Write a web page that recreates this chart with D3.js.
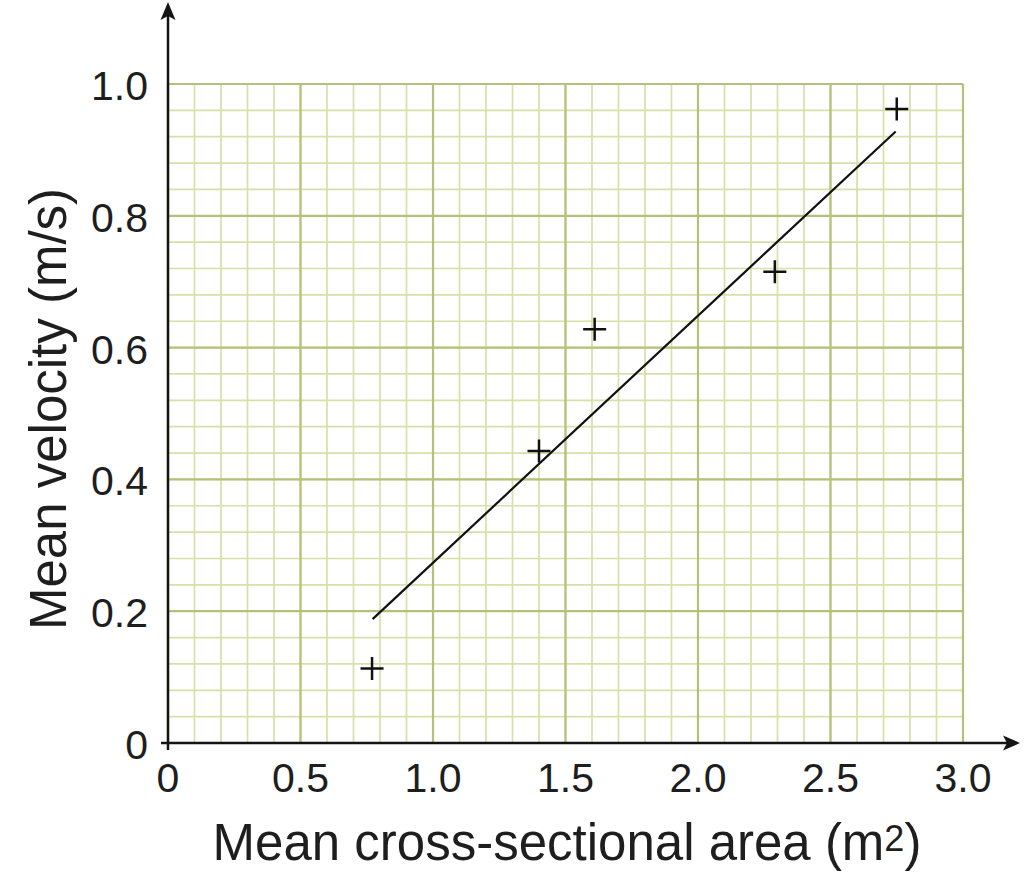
<!DOCTYPE html>
<html>
<head>
<meta charset="utf-8">
<script src="https://cdn.jsdelivr.net/npm/d3@7"></script>
<style>
html,body{margin:0;padding:0;background:#fff;}
svg{display:block;}
text{font-family:"Liberation Sans", Arial, Helvetica, sans-serif;fill:#1e1e1e;}
</style>
</head>
<body>
<svg id="chart" width="1024" height="881"></svg>
<script>
// ---- data ----
const xTickValues = [0, 0.5, 1.0, 1.5, 2.0, 2.5, 3.0];
const xTickLabels = ["0", "0.5", "1.0", "1.5", "2.0", "2.5", "3.0"];
const yTickValues = [0, 0.2, 0.4, 0.6, 0.8, 1.0];
const yTickLabels = ["0", "0.2", "0.4", "0.6", "0.8", "1.0"];
const pointsX = [0.77, 1.40, 1.61, 2.29, 2.75];
const pointsY = [0.113, 0.443, 0.628, 0.715, 0.962];
const fitX = [0.772, 2.746];
const fitY = [0.188, 0.928];
const xTitle = "Mean cross-sectional area (m";
const xTitleSup = "2";
const yTitle = "Mean velocity (m/s)";

// ---- layout ----
const svg = d3.select("#chart");
const x = d3.scaleLinear().domain([0, 3]).range([168, 963]);
const y = d3.scaleLinear().domain([0, 1]).range([743, 84]);

const minorColor = "#d8dfa8";
const majorColor = "#b7c07a";

// minor grid
const xMinor = d3.range(0, 31).map(i => i / 10);
const yMinor = d3.range(0, 26).map(i => i * 0.04);
const g = svg.append("g");
g.selectAll("line.xmin").data(xMinor).join("line")
  .attr("x1", d => x(d)).attr("x2", d => x(d))
  .attr("y1", y(0)).attr("y2", y(1))
  .attr("stroke", minorColor).attr("stroke-width", 1.7);
g.selectAll("line.ymin").data(yMinor).join("line")
  .attr("y1", d => y(d)).attr("y2", d => y(d))
  .attr("x1", x(0)).attr("x2", x(3))
  .attr("stroke", minorColor).attr("stroke-width", 1.7);
// major grid
g.selectAll("line.xmaj").data(xTickValues).join("line")
  .attr("x1", d => x(d)).attr("x2", d => x(d))
  .attr("y1", y(0)).attr("y2", y(1))
  .attr("stroke", majorColor).attr("stroke-width", 2.2);
g.selectAll("line.ymaj").data(yTickValues).join("line")
  .attr("y1", d => y(d)).attr("y2", d => y(d))
  .attr("x1", x(0)).attr("x2", x(3))
  .attr("stroke", majorColor).attr("stroke-width", 2.2);

// axes with arrows
const axisColor = "#141414";
svg.append("line").attr("x1", x(0)).attr("x2", x(0)).attr("y1", 750).attr("y2", 12)
  .attr("stroke", axisColor).attr("stroke-width", 2.5);
svg.append("path").attr("d", `M${x(0)},2 L${x(0)-7.5},20 L${x(0)},16 L${x(0)+7.5},20 Z`)
  .attr("fill", axisColor);
svg.append("line").attr("x1", 161).attr("x2", 1012).attr("y1", y(0)).attr("y2", y(0))
  .attr("stroke", axisColor).attr("stroke-width", 2.5);
svg.append("path").attr("d", `M1020,${y(0)} L1003,${y(0)-7.5} L1007,${y(0)} L1003,${y(0)+7.5} Z`)
  .attr("fill", axisColor);

// tick labels
svg.selectAll("text.xt").data(xTickValues).join("text")
  .attr("x", d => x(d)).attr("y", 792)
  .attr("text-anchor", "middle").attr("font-size", 41)
  .text((d, i) => xTickLabels[i]);
svg.selectAll("text.yt").data(yTickValues).join("text")
  .attr("x", 148).attr("y", d => y(d) + 16)
  .attr("text-anchor", "end").attr("font-size", 41)
  .text((d, i) => yTickLabels[i]);

// axis titles
const xt = svg.append("text").attr("x", 567).attr("y", 860)
  .attr("text-anchor", "middle").attr("font-size", 51);
xt.append("tspan").text(xTitle);
xt.append("tspan").attr("font-size", 36).attr("dy", -9).text(xTitleSup);
xt.append("tspan").attr("dy", 9).text(")");

svg.append("text").attr("transform", "translate(66,409) rotate(-90)")
  .attr("text-anchor", "middle").attr("font-size", 51)
  .text(yTitle);

// fit line
svg.append("line")
  .attr("x1", x(fitX[0])).attr("y1", y(fitY[0]))
  .attr("x2", x(fitX[1])).attr("y2", y(fitY[1]))
  .attr("stroke", "#111").attr("stroke-width", 2.2);

// crosses
const s = 11.5;
const pts = pointsX.map((v, i) => [v, pointsY[i]]);
svg.selectAll("path.pt").data(pts).join("path")
  .attr("d", d => `M${x(d[0])-s},${y(d[1])} H${x(d[0])+s} M${x(d[0])},${y(d[1])-s} V${y(d[1])+s}`)
  .attr("stroke", "#111").attr("stroke-width", 2.5).attr("fill", "none");
</script>
</body>
</html>
